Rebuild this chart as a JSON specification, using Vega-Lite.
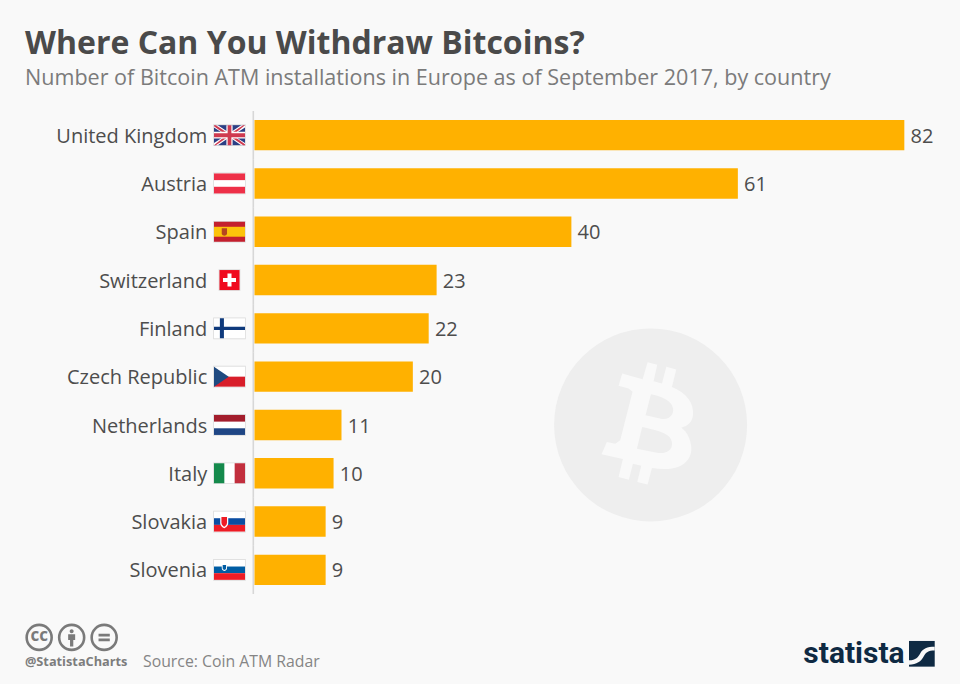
{
"$schema":"https://vega.github.io/schema/vega-lite/v6.json",
"width":960,"height":531.3,
"autosize":{"type":"none"},
"padding":{"left":0,"right":0,"top":111,"bottom":41.7},
"background":"#f9f9f9",
"config":{"view":{"stroke":null},"font":"Open Sans"},
"title":{"text":"Where Can You Withdraw Bitcoins?","subtitle":"Number of Bitcoin ATM installations in Europe as of September 2017, by country","anchor":"start","frame":"group","dx":25,"offset":20,"font":"Open Sans","fontSize":32,"fontWeight":700,"color":"#4a4a4a","subtitleFont":"Open Sans","subtitleFontSize":21.55,"subtitleColor":"#7b7b7b","subtitlePadding":7},
"datasets":{
"atms":[
{"country":"United Kingdom","value":82},{"country":"Austria","value":61},{"country":"Spain","value":40},{"country":"Switzerland","value":23},{"country":"Finland","value":22},{"country":"Czech Republic","value":20},{"country":"Netherlands","value":11},{"country":"Italy","value":10},{"country":"Slovakia","value":9},{"country":"Slovenia","value":9}],
"flagparts":[
{"country":"United Kingdom","value":-3.09,"part":"edge","tint":"shade"},{"country":"United Kingdom","value":-3.09,"part":"full","tint":"ukblue"},{"country":"United Kingdom","value":-3.09,"part":"ukdiagwhite","tint":"white"},{"country":"United Kingdom","value":-3.09,"part":"ukdiagred","tint":"ukred"},{"country":"United Kingdom","value":-3.09,"part":"ukcrosswhite","tint":"white"},{"country":"United Kingdom","value":-3.09,"part":"ukcrossred","tint":"ukred"},
{"country":"Austria","value":-3.09,"part":"edge","tint":"shade"},{"country":"Austria","value":-3.09,"part":"full","tint":"white"},{"country":"Austria","value":-3.09,"part":"top","tint":"atred"},{"country":"Austria","value":-3.09,"part":"bottom","tint":"atred"},
{"country":"Spain","value":-3.09,"part":"edge","tint":"shade"},{"country":"Spain","value":-3.09,"part":"full","tint":"esred"},{"country":"Spain","value":-3.09,"part":"band","tint":"esyellow"},{"country":"Spain","value":-3.09,"part":"emblem","tint":"esemblem"},
{"country":"Switzerland","value":-3.09,"part":"squareedge","tint":"shade"},{"country":"Switzerland","value":-3.09,"part":"square","tint":"chred"},{"country":"Switzerland","value":-3.09,"part":"swisscross","tint":"white"},
{"country":"Finland","value":-3.09,"part":"edge","tint":"shade"},{"country":"Finland","value":-3.09,"part":"full","tint":"white"},{"country":"Finland","value":-3.09,"part":"nordic","tint":"finavy"},
{"country":"Czech Republic","value":-3.09,"part":"edge","tint":"shade"},{"country":"Czech Republic","value":-3.09,"part":"full","tint":"white"},{"country":"Czech Republic","value":-3.09,"part":"lowerhalf","tint":"czred"},{"country":"Czech Republic","value":-3.09,"part":"wedge","tint":"czblue"},
{"country":"Netherlands","value":-3.09,"part":"edge","tint":"shade"},{"country":"Netherlands","value":-3.09,"part":"full","tint":"white"},{"country":"Netherlands","value":-3.09,"part":"top","tint":"nlred"},{"country":"Netherlands","value":-3.09,"part":"bottom","tint":"nlblue"},
{"country":"Italy","value":-3.09,"part":"edge","tint":"shade"},{"country":"Italy","value":-3.09,"part":"full","tint":"white"},{"country":"Italy","value":-3.09,"part":"left","tint":"itgreen"},{"country":"Italy","value":-3.09,"part":"right","tint":"itred"},
{"country":"Slovakia","value":-3.09,"part":"edge","tint":"shade"},{"country":"Slovakia","value":-3.09,"part":"full","tint":"white"},{"country":"Slovakia","value":-3.09,"part":"middle","tint":"skblue"},{"country":"Slovakia","value":-3.09,"part":"bottom","tint":"skred"},{"country":"Slovakia","value":-3.09,"part":"shield","tint":"white"},{"country":"Slovakia","value":-3.09,"part":"shieldinner","tint":"skred"},
{"country":"Slovenia","value":-3.09,"part":"edge","tint":"shade"},{"country":"Slovenia","value":-3.09,"part":"full","tint":"white"},{"country":"Slovenia","value":-3.09,"part":"middle","tint":"siblue"},{"country":"Slovenia","value":-3.09,"part":"bottom","tint":"skred"},{"country":"Slovenia","value":-3.09,"part":"smallshield","tint":"white"},{"country":"Slovenia","value":-3.09,"part":"smallshieldinner","tint":"siblue"}
],
"coin":[{"country":"Netherlands","value":50.03}],
"footer":[{"country":"footer","value":-27.1,"part":"ring"},{"country":"footer","value":-23.0,"part":"ring"},{"country":"footer","value":-18.9,"part":"ring"}]
},
"encoding":{
"x":{"field":"value","type":"quantitative","scale":{"domain":[-32.04,89.06],"nice":false,"zero":false},"axis":null},
"y":{"field":"country","type":"nominal","sort":null,"scale":{"domain":["United Kingdom","Austria","Spain","Switzerland","Finland","Czech Republic","Netherlands","Italy","Slovakia","Slovenia","footer"],"paddingInner":0.37,"paddingOuter":0.185},"axis":null}
},
"layer":[
{"data":{"name":"coin"},"mark":{"type":"point","shape":"circle","filled":true,"size":37249,"color":"#eeeeee","opacity":1,"strokeWidth":0}},
{"data":{"name":"coin"},"mark":{"type":"point","filled":true,"size":37249,"color":"#f9f9f9","opacity":1,"strokeWidth":0,"shape":"M-.294,-.533L-.083,-.474L-.031,-.651L.069,-.623L.031,-.453L.118,-.429L.163,-.602L.266,-.574L.221,-.394C.377,-.332,.453,-.221,.439,-.1C.43,-.03,.39,.01,.318,.028C.394,.073,.464,.246,.394,.349C.325,.453,.187,.471,.014,.446L-.031,.616L-.138,.592L-.097,.422L-.183,.401L-.225,.567L-.332,.54L-.287,.353L-.509,.304L-.453,.176L-.367,.194L-.315,.159L-.187,-.343L-.228,-.377L-.332,-.405Z"}},
{"data":{"name":"coin"},"mark":{"type":"point","filled":true,"size":37249,"color":"#eeeeee","opacity":1,"strokeWidth":0,"shape":"M.003,-.318L-.052,-.1L.118,-.062C.2,-.05,.25,-.12,.23,-.18C.21,-.26,.1,-.3,.003,-.318ZM-.087,.021L-.142,.246L.066,.287C.197,.31,.26,.22,.2,.13C.16,.08,.05,.05,-.087,.021Z"}},
{"data":{"name":"atms"},"mark":{"type":"tick","size":48.3,"thickness":1.6,"color":"#c9c9c9","xOffset":-0.7},"encoding":{"x":{"datum":0}}},
{"data":{"name":"atms"},"mark":{"type":"bar","color":"#ffb100","xOffset":0.3,"x2Offset":0.5},"encoding":{"x":{"field":"value","type":"quantitative"},"x2":{"datum":0}}},
{"data":{"name":"atms"},"mark":{"type":"text","align":"left","baseline":"middle","dx":6.5,"dy":1.6,"fontSize":20,"font":"Open Sans","color":"#4d4d4d"},"encoding":{"text":{"field":"value","type":"quantitative"}}},
{"data":{"name":"atms"},"mark":{"type":"text","align":"right","baseline":"middle","dy":1.6,"fontSize":20,"font":"Open Sans","color":"#4d4d4d"},"encoding":{"x":{"datum":-5.9},"text":{"field":"country","type":"nominal"}}},
{"data":{"name":"flagparts"},"mark":{"type":"point","filled":true,"size":961,"opacity":1,"strokeWidth":0},"encoding":{
"shape":{"field":"part","type":"nominal","legend":null,"scale":{
"domain":["edge","full","top","middle","bottom","left","right","band","emblem","square","squareedge","swisscross","nordic","lowerhalf","wedge","ukdiagwhite","ukdiagred","ukcrosswhite","ukcrossred","shield","shieldinner","smallshield","smallshieldinner"],
"range":["M-1.05,-.7H1.05V.7H-1.05Z","M-1,-.645H1V.645H-1Z","M-1,-.645H1V-.215H-1Z","M-1,-.215H1V.215H-1Z","M-1,.215H1V.645H-1Z","M-1,-.645H-.333V.645H-1Z","M.333,-.645H1V.645H.333Z","M-1,-.32H1V.32H-1Z","M-.5,-.22H-.16V.12C-.16,.22,-.28,.26,-.33,.26C-.38,.26,-.5,.22,-.5,.12Z","M-.645,-.645H.645V.645H-.645Z","M-.7,-.7H.7V.7H-.7Z","M-.13,-.42H.13V-.13H.42V.13H.13V.42H-.13V.13H-.42V-.13H-.13Z","M-.62,-.645H-.36V-.11H1V.11H-.36V.645H-.62V.11H-1V-.11H-.62Z","M-1,0H1V.645H-1Z","M-1,-.645L-.05,0L-1,.645Z","M-1,-.645H-.75L0,-.14L.75,-.645H1V-.5L.22,0L1,.5V.645H.75L0,.14L-.75,.645H-1V.5L-.22,0L-1,-.5Z","M-1,-.645L-.88,-.645L-.07,-.1L.08,-.1L.88,-.645H1L.2,0L1,.58V.645H.88L.07,.1L-.08,.1L-.88,.645H-1L-.2,0L-1,-.58Z","M-.2,-.645H.2V-.22H1V.22H.2V.645H-.2V.22H-1V-.22H-.2Z","M-.12,-.645H.12V-.13H1V.13H.12V.645H-.12V.13H-1V-.13H-.12Z","M-.6,-.38H-.08V.1C-.08,.3,-.25,.4,-.34,.44C-.43,.4,-.6,.3,-.6,.1Z","M-.52,-.3H-.16V.08C-.16,.22,-.27,.3,-.34,.33C-.41,.3,-.52,.22,-.52,.08Z","M-.5,-.42H-.16V-.1C-.16,.02,-.28,.06,-.33,.08C-.38,.06,-.5,.02,-.5,-.1Z","M-.44,-.32H-.22V-.1C-.22,-.03,-.3,0,-.33,.01C-.36,0,-.44,-.03,-.44,-.1Z"]}},
"color":{"field":"tint","type":"nominal","legend":null,"scale":{
"domain":["shade","white","ukblue","ukred","atred","esred","esyellow","esemblem","chred","finavy","czred","czblue","nlred","nlblue","itgreen","itred","skblue","skred","siblue"],
"range":["#dcdcdc","#ffffff","#2c3f85","#cf3a50","#ee3048","#c4202e","#fcc30b","#b5451f","#f00a1e","#0f3a7c","#d81e2a","#1f4a80","#a31d2c","#1f4685","#158a4c","#c22f3e","#0b4ea2","#ee1c25","#005da4"]}}}},
{"data":{"name":"footer"},"mark":{"type":"point","shape":"circle","size":625,"filled":false,"stroke":"#7a7a7a","strokeWidth":2.6,"opacity":1,"yOffset":19.25}},
{"data":{"values":[{"country":"footer","value":-27.1,"note":"cc"}]},"mark":{"type":"text","align":"center","baseline":"middle","dy":17.45,"fontSize":17,"fontWeight":700,"font":"Open Sans","color":"#7a7a7a"},"encoding":{"text":{"field":"note"}}},
{"data":{"values":[{"country":"footer","value":-23.0}]},"mark":{"type":"point","filled":true,"size":625,"color":"#7a7a7a","opacity":1,"strokeWidth":0,"yOffset":19.25,"shape":"M-.16,-.5A.16,.16,0,1,1,.16,-.5A.16,.16,0,1,1,-.16,-.5ZM-.28,-.25H.28V.2H.13V.72H-.13V.2H-.28Z"}},
{"data":{"values":[{"country":"footer","value":-18.9}]},"mark":{"type":"point","filled":true,"size":625,"color":"#7a7a7a","opacity":1,"strokeWidth":0,"yOffset":19.25,"shape":"M-.45,-.3H.45V-.08H-.45ZM-.45,.08H.45V.3H-.45Z"}},
{"data":{"values":[{"country":"footer","value":-28.9,"note":"@StatistaCharts"}]},"mark":{"type":"text","align":"left","baseline":"middle","dy":43.45,"fontSize":12.75,"fontWeight":700,"font":"Open Sans","color":"#7d7d7d"},"encoding":{"text":{"field":"note"}}},
{"data":{"values":[{"country":"footer","value":-14,"note":"Source: Coin ATM Radar"}]},"mark":{"type":"text","align":"left","baseline":"middle","dy":43.45,"fontSize":15.8,"font":"Open Sans","color":"#858585"},"encoding":{"text":{"field":"note"}}},
{"data":{"values":[{"country":"footer","value":69.3,"note":"statista"}]},"mark":{"type":"text","align":"left","baseline":"middle","dy":35.45,"fontSize":30,"fontWeight":700,"font":"Roboto","color":"#0f2a43"},"encoding":{"text":{"field":"note"}}},
{"data":{"values":[{"country":"footer","value":84.25}]},"mark":{"type":"point","shape":"square","filled":true,"size":660,"color":"#0f2a43","opacity":1,"strokeWidth":0,"yOffset":35.65}},
{"data":{"values":[{"country":"footer","value":84.25}]},"mark":{"type":"point","filled":true,"size":660,"color":"#f9f9f9","opacity":1,"strokeWidth":0,"yOffset":35.65,"shape":"M-1,.5C-.45,.5,-.3,.25,-.12,-.05C.08,-.4,.4,-.55,1,-.55V-.25C.5,-.25,.3,-.1,.15,.2C-.05,.6,-.4,.85,-1,.85Z"}}
]
}
